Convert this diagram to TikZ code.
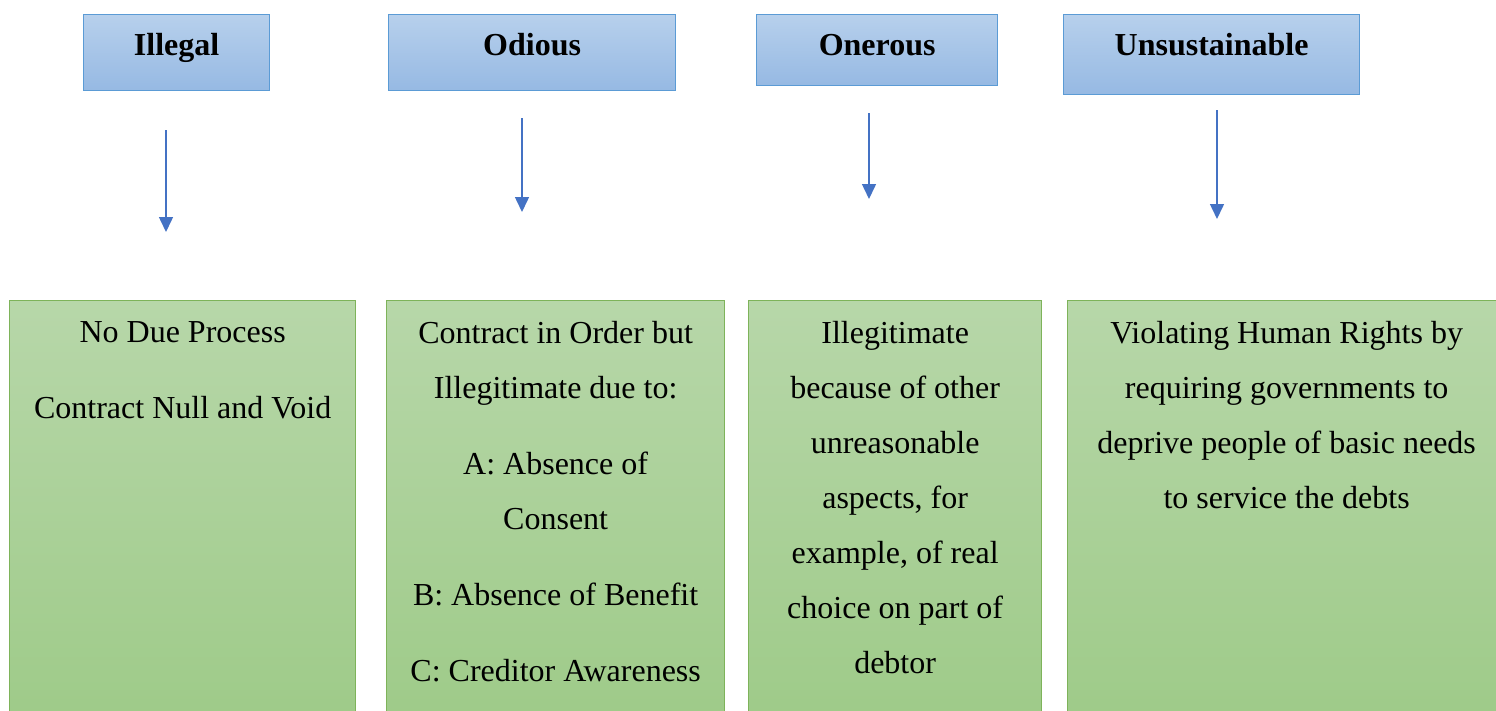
\documentclass[tikz,border=0pt]{standalone}
\usepackage{fontspec}
\setmainfont{Liberation Serif}
\usetikzlibrary{positioning,arrows.meta}

\definecolor{hdrtop}{HTML}{B7D0EC}
\definecolor{hdrbot}{HTML}{96B9E3}
\definecolor{hdrline}{HTML}{5B9BD5}
\definecolor{boxtop}{HTML}{B7D7A9}
\definecolor{boxbot}{HTML}{9DCA87}
\definecolor{boxline}{HTML}{7EB35A}
\definecolor{arrblue}{HTML}{4472C4}

\tikzset{
  hdr/.style={draw=hdrline, line width=1.3pt, top color=hdrtop, bottom color=hdrbot,
    anchor=north west, inner ysep=19pt, text height=22pt,
    font=\fontsize{32}{55}\selectfont\bfseries},
  gbox/.style={draw=boxline, line width=1.3pt, top color=boxtop, bottom color=boxbot,
    anchor=north west, minimum height=440pt},
  btext/.style={align=center, inner sep=0pt, font=\fontsize{32}{55}\selectfont},
  arr/.style={draw=arrblue, line width=1.5pt, -{Triangle[width=14pt,length=15pt]}}
}

\begin{document}
\begin{tikzpicture}[x=1pt, y=-1pt]
    \useasboundingbox (0,0) rectangle (1496,710);
    \clip (0,0) rectangle (1496,710);
    % headers
    \node[hdr, minimum width=186pt, text depth=16pt] (h1) at (83,14) {Illegal};
    \node[hdr, minimum width=287pt, text depth=16pt] (h2) at (388,14) {Odious};
    \node[hdr, minimum width=241pt, text depth=11pt] (h3) at (756,14) {Onerous};
    \node[hdr, minimum width=296pt, text depth=20pt] (h4) at (1063,14) {Unsustainable};
    % green boxes (the last one runs off the page)
    \node[gbox, minimum width=346pt] (b1) at (9,300) {};
    \node[gbox, minimum width=338pt] (b2) at (386,300) {};
    \node[gbox, minimum width=293pt] (b3) at (748,300) {};
    \node[gbox, minimum width=470pt] (b4) at (1067,300) {};
    % box texts
    \node[btext, below=21pt of b1.north] (t1) {No Due Process\\[21pt]Contract Null and Void};
    \node[btext, below=21pt of b2.north] (t2) {Contract in Order but\\Illegitimate due to:\\[21pt]A: Absence of\\Consent\\[21pt]B: Absence of Benefit\\[21pt]C: Creditor Awareness};
    \node[btext, below=21pt of b3.north] (t3) {Illegitimate\\because of other\\unreasonable\\aspects, for\\example, of real\\choice on part of\\debtor};
    \node[btext, below=21pt of b4.north, xshift=-16pt] (t4) {Violating Human Rights by\\requiring governments to\\deprive people of basic needs\\to service the debts};
    % arrows
    \coordinate (a1s) at (166,130); \coordinate (a1e) at (166,232);
    \coordinate (a2s) at (522,118); \coordinate (a2e) at (522,212);
    \coordinate (a3s) at (869,113); \coordinate (a3e) at (869,199);
    \coordinate (a4s) at (1217,110); \coordinate (a4e) at (1217,219);
    \foreach \i in {1,...,4}
        \draw[arr] (a\i s) -- (a\i e);
\end{tikzpicture}
\end{document}
